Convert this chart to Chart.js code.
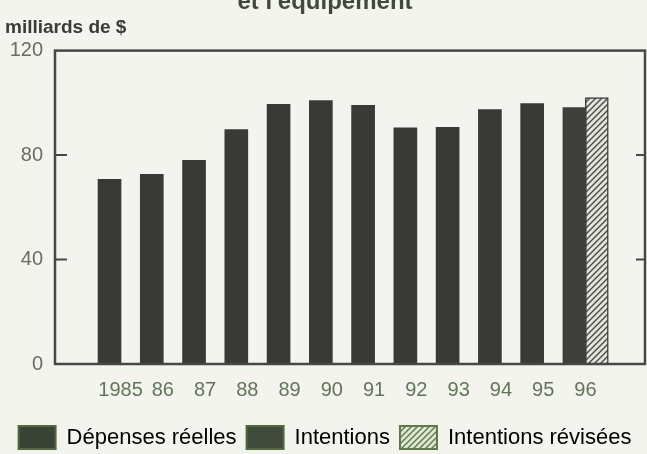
<!DOCTYPE html>
<html>
<head>
<meta charset="utf-8">
<script src="https://cdn.jsdelivr.net/npm/chart.js@4"></script>
<style>
  html, body { margin: 0; padding: 0; background: #f4f4ef; }
  .wrap { position: relative; width: 647px; height: 454px; overflow: hidden; }
  canvas { position: absolute; left: 0; top: -14px; }
</style>
</head>
<body>
<div class="wrap"><canvas id="graphic" width="647" height="475"></canvas></div>
<script>
const years = [1985, 1986, 1987, 1988, 1989, 1990, 1991, 1992, 1993, 1994, 1995, 1996];
const yearLabels = ["1985", "86", "87", "88", "89", "90", "91", "92", "93", "94", "95", "96"];
const depenses = [70.7, 72.6, 78.0, 89.8, 99.4, 100.9, 99.0, 90.4, 90.6, 97.4, 99.7, null];
const intentions = [null, null, null, null, null, null, null, null, null, null, null, 98.2];
const intentionsRevisees = [null, null, null, null, null, null, null, null, null, null, null, 102.0];
const yTicks = [0, 40, 80, 120];

const canvas = document.querySelector("#graphic");

// motif hachuré pour les intentions révisées
const makeHatch = (bg, line) => {
  const p = document.createElement("canvas");
  p.width = 6;
  p.height = 6;
  const c = p.getContext("2d");
  c.fillStyle = bg;
  c.fillRect(0, 0, 6, 6);
  c.strokeStyle = line;
  c.lineWidth = 1.4;
  c.beginPath();
  c.moveTo(-1, 7); c.lineTo(7, -1);
  c.moveTo(-1, 1); c.lineTo(1, -1);
  c.moveTo(5, 7); c.lineTo(7, 5);
  c.stroke();
  return canvas.getContext("2d").createPattern(p, "repeat");
};

const toPoints = (values) => years.map((x, i) => ({ x, y: values[i] }));

const legendStyles = [
  { fill: "#3b4336", stroke: "#52693f" },
  { fill: "#3f4a3a", stroke: "#52693f" },
  { fill: makeHatch("#dfe6d4", "#5f7a4a"), stroke: "#5f7a4a" },
];

const frame = {
  id: "frame",
  afterDatasetsDraw(chart) {
    const { ctx, chartArea: a, scales } = chart;
    ctx.save();
    ctx.strokeStyle = "#474745";
    ctx.lineWidth = 2.5;
    ctx.strokeRect(a.left, a.top, a.right - a.left, a.bottom - a.top);
    ctx.lineWidth = 2;
    yTicks.slice(1, -1).forEach((v) => {
      const y = scales.y.getPixelForValue(v);
      ctx.beginPath();
      ctx.moveTo(a.left, y);
      ctx.lineTo(a.left + 12, y);
      ctx.moveTo(a.right, y);
      ctx.lineTo(a.right - 9, y);
      ctx.stroke();
    });
    ctx.restore();
  },
};

const xMin = 1983.71;
const xMax = 1997.67;
const revShift = 0.53;

new Chart(canvas.getContext("2d"), {
  type: "bar",
  data: {
    datasets: [
      {
        label: "Dépenses réelles",
        data: toPoints(depenses),
        backgroundColor: "#393937",
      },
      {
        label: "Intentions",
        data: toPoints(intentions),
        backgroundColor: "#3f3f3d",
      },
      {
        label: "Intentions révisées",
        data: toPoints(intentionsRevisees),
        backgroundColor: makeHatch("#e4e4dc", "#4a4a48"),
        borderColor: "#3e3e3c",
        borderWidth: 1.5,
        xAxisID: "xRev",
      },
    ],
  },
  options: {
    responsive: false,
    animation: false,
    layout: { padding: { left: 5, right: 2, top: 0, bottom: 2 } },
    datasets: { bar: { grouped: false, barThickness: 23 } },
    scales: {
      x: {
        type: "linear",
        min: xMin,
        max: xMax,
        offset: false,
        grid: { display: false, drawTicks: false },
        border: { display: false },
        afterBuildTicks: (axis) => {
          axis.ticks = years.map((v) => ({ value: v }));
        },
        ticks: {
          autoSkip: false,
          maxRotation: 0,
          labelOffset: 11,
          padding: 14,
          color: "#62755a",
          font: { family: "Liberation Sans", size: 20 },
          callback: (v, i) => yearLabels[i],
        },
      },
      xRev: {
        type: "linear",
        display: false,
        min: xMin - revShift,
        max: xMax - revShift,
        offset: false,
      },
      y: {
        min: 0,
        max: 120,
        grid: { display: false, drawTicks: false },
        border: { display: false },
        afterFit: (axis) => {
          axis.width = 50;
        },
        ticks: {
          stepSize: 40,
          padding: 12,
          color: "#67705f",
          font: { family: "Liberation Sans", size: 20 },
        },
      },
    },
    plugins: {
      title: {
        display: true,
        text: "et l'équipement",
        color: "#3f4a3a",
        font: { family: "Liberation Sans", size: 24, weight: "bold" },
        padding: { top: 2, bottom: 0 },
      },
      subtitle: {
        display: true,
        text: "milliards de $",
        align: "start",
        color: "#3a3a3a",
        font: { family: "Liberation Sans", size: 19, weight: "bold" },
        padding: { top: 0, bottom: 11 },
      },
      legend: {
        position: "bottom",
        labels: {
          boxWidth: 37,
          boxHeight: 23,
          padding: 10,
          color: "#5e7a4c",
          font: { family: "Liberation Sans", size: 22 },
          generateLabels: (chart) =>
            chart.data.datasets.map((ds, i) => ({
              text: ds.label,
              fillStyle: legendStyles[i].fill,
              strokeStyle: legendStyles[i].stroke,
              lineWidth: 2,
              datasetIndex: i,
            })),
        },
      },
      tooltip: { enabled: false },
    },
  },
  plugins: [frame],
});
</script>
</body>
</html>
